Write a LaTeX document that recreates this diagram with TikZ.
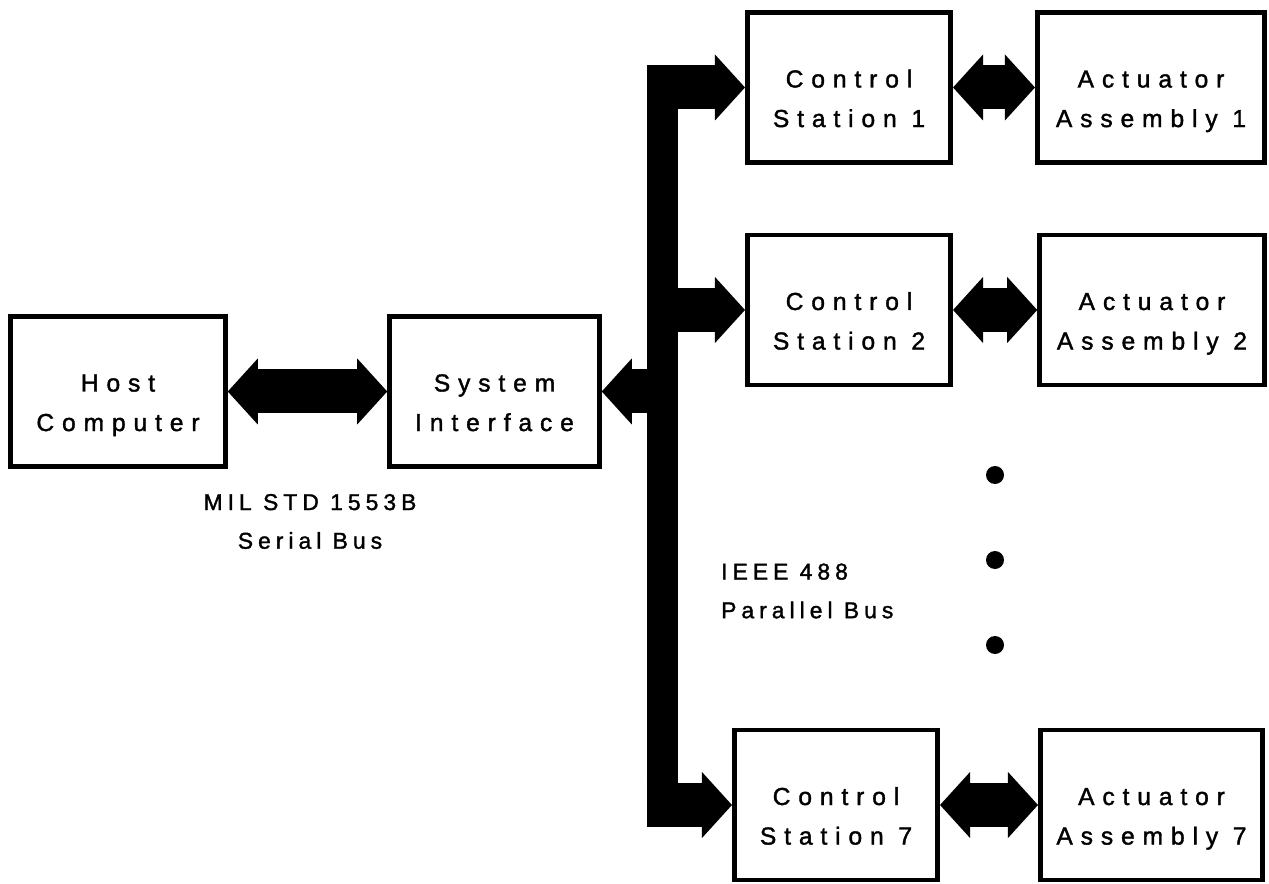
\documentclass[tikz,border=0pt]{standalone}
\usepackage{fontspec}
\setmainfont{Liberation Sans}
\newfontfamily\unitfont{Liberation Sans}[LetterSpace=32, FakeBold=1.5]
\newfontfamily\busfont{Liberation Sans}[LetterSpace=22, FakeBold=1.5]
\usetikzlibrary{arrows.meta}

\begin{document}
\begin{tikzpicture}[>={Triangle[length=0.6cm, width=1.32cm, line width=0pt]},
    unit/.style={draw, line width=2.6pt, minimum height=3.0cm, align=center,
        text height=48pt, text depth=3pt, font=\unitfont\fontsize{14}{22.5}\selectfont},
    buslabel/.style={align=center, font=\busfont\fontsize{13}{22}\selectfont},
    fat/.style={line width=0.88cm}]
    \useasboundingbox (0,0) rectangle (25.38,17.66);

    % host and system interface
    \node[unit, minimum width=4.3cm] (host) at (2.36,9.83) {Host\\Computer};
    \node[unit, minimum width=4.2cm] (sif) at (9.89,9.83) {System\\Interface};
    \draw[fat, <->] (host.east) -- (sif.west);
    \node[buslabel] (serial) at (6.2,7.23) {MIL STD 1553B\\Serial Bus};

    % control stations and actuators
    \node[unit, minimum width=4.07cm] (cs1) at (16.98,15.91) {Control\\Station 1};
    \node[unit, minimum width=4.55cm] (aa1) at (23.02,15.91) {Actuator\\Assembly 1};
    \node[unit, minimum width=4.07cm] (cs2) at (16.98,11.46) {Control\\Station 2};
    \node[unit, minimum width=4.5cm] (aa2) at (23.04,11.46) {Actuator\\Assembly 2};
    \node[unit, minimum width=4.07cm] (cs7) at (16.72,1.56) {Control\\Station 7};
    \node[unit, minimum width=4.45cm] (aa7) at (23.03,1.56) {Actuator\\Assembly 7};
    \draw[fat, <->] (cs1.east) -- (aa1.west);
    \draw[fat, <->] (cs2.east) -- (aa2.west);
    \draw[fat, <->] (cs7.east) -- (aa7.west);

    % parallel bus
    \node[fill, inner sep=0pt, minimum width=0.62cm, minimum height=15.23cm] (bus) at (13.25,8.735) {};
    \draw[fat, ->] (bus.west |- cs1.west) -- (cs1.west);
    \draw[fat, ->] (bus.east |- cs2.west) -- (cs2.west);
    \draw[fat, ->] (bus.west |- cs7.west) -- (cs7.west);
    \draw[fat, ->] (bus.west |- sif.east) -- (sif.east);
    \node[buslabel, anchor=west, align=left] (parallel) at (14.3,5.84) {IEEE 488\\Parallel Bus};

    \foreach \y in {8.16,6.46,4.76}
        \fill (19.9,\y) circle (0.18cm);
\end{tikzpicture}
\end{document}
